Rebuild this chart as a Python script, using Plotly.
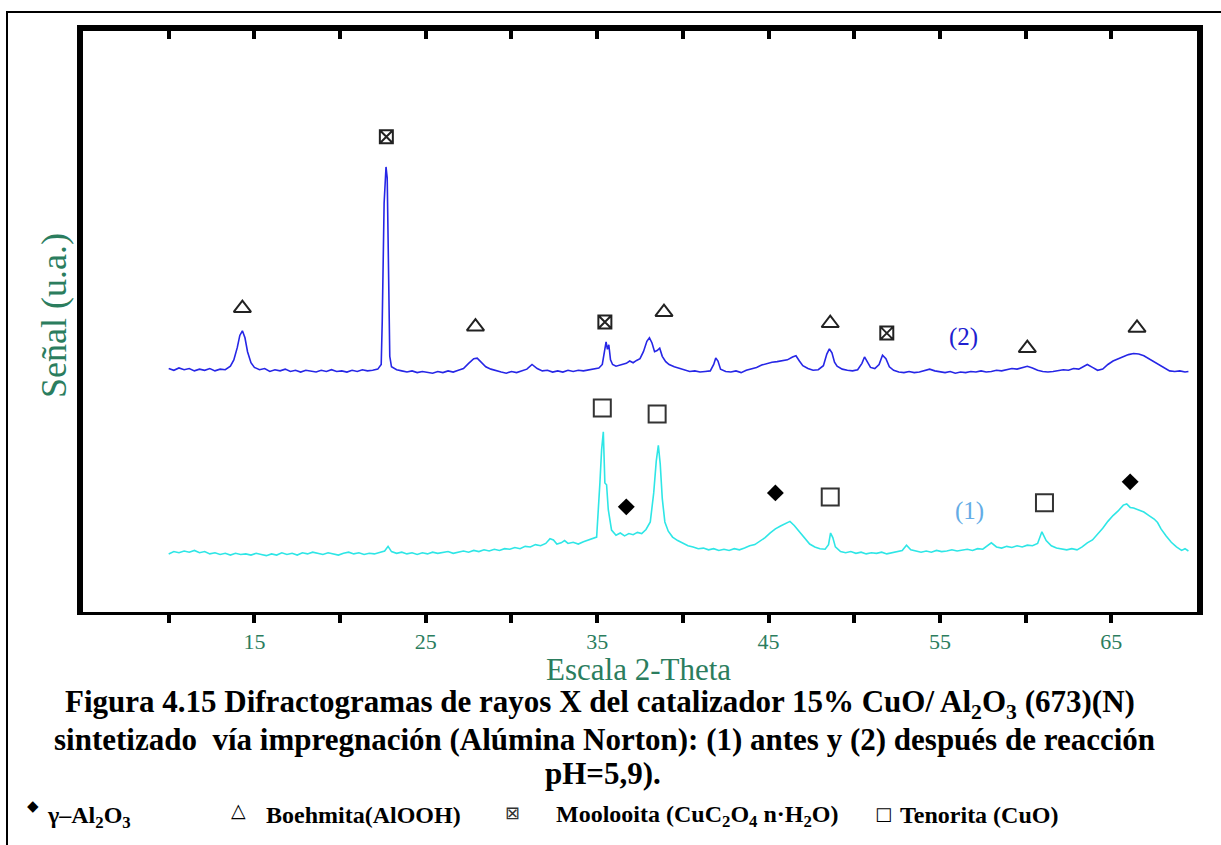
import plotly.graph_objects as go

# ---------------- data ----------------
two_theta_2 = [10.0,10.3,10.6,10.9,11.2,11.5,11.8,12.1,12.4,12.7,13.0,13.3,13.6,13.8,14.0,14.15,14.3,14.45,14.6,14.8,
               15.0,15.3,15.6,15.9,16.2,16.5,16.8,17.1,17.4,17.7,18.0,18.3,18.6,18.9,19.2,19.5,19.8,20.1,20.4,20.7,
               21.0,21.3,21.6,21.9,22.2,22.4,22.46,22.57,22.68,22.75,22.83,22.9,23.0,23.3,23.6,23.9,24.2,24.5,24.8,25.1,
               25.4,25.7,26.0,26.3,26.6,26.9,27.2,27.5,27.8,28.0,28.2,28.5,28.8,29.1,29.4,29.7,30.0,30.3,30.6,30.9,
               31.2,31.5,31.8,32.1,32.4,32.7,33.0,33.3,33.6,33.9,34.2,34.5,34.8,35.1,35.3,35.42,35.52,35.6,35.68,35.78,
               35.9,36.1,36.4,36.7,36.9,37.1,37.3,37.5,37.7,37.9,38.05,38.2,38.35,38.5,38.65,38.8,39.0,39.2,39.5,39.8,
               40.1,40.4,40.7,41.0,41.3,41.6,41.8,41.92,42.05,42.2,42.5,42.8,43.1,43.4,43.7,44.0,44.3,44.6,44.9,45.2,
               45.5,45.8,46.1,46.4,46.6,46.8,47.0,47.3,47.6,47.9,48.2,48.4,48.55,48.7,48.85,49.0,49.3,49.6,49.9,50.2,
               50.45,50.6,50.75,50.95,51.2,51.45,51.65,51.85,52.05,52.3,52.6,52.9,53.2,53.5,53.8,54.1,54.4,54.7,55.0,55.3,
               55.6,55.9,56.2,56.5,56.8,57.1,57.4,57.7,58.0,58.3,58.6,58.9,59.2,59.5,59.8,60.1,60.4,60.7,61.0,61.3,
               61.6,61.9,62.2,62.5,62.8,63.1,63.4,63.6,63.9,64.2,64.5,64.8,65.1,65.4,65.7,66.0,66.3,66.6,66.9,67.2,
               67.5,67.8,68.1,68.4,68.7,69.0,69.3,69.5]
signal_2 = [41.9,41.6,42.0,41.7,41.9,41.5,41.8,41.6,41.9,41.5,41.8,41.7,42.3,43.4,45.5,47.6,48.4,47.2,44.8,42.9,
            42.1,41.7,41.9,41.4,41.7,41.5,41.8,41.4,41.6,41.3,41.6,41.5,41.3,41.6,41.4,41.7,41.4,41.5,41.3,41.6,
            41.4,41.7,41.5,41.6,41.8,42.6,50.0,70.4,76.6,74.7,53.4,44.0,42.2,41.7,41.5,41.3,41.5,41.2,41.4,41.3,
            41.1,41.4,41.2,41.5,41.3,41.6,41.9,42.8,43.6,43.7,43.1,42.2,41.8,41.5,41.3,41.1,41.4,41.2,41.5,41.8,
            42.6,41.9,41.5,41.6,41.3,41.5,41.3,41.6,41.4,41.6,41.5,41.7,41.8,42.0,42.6,45.0,46.5,45.2,46.0,43.4,
            42.6,42.3,42.5,42.8,43.2,42.9,43.3,43.6,44.8,46.6,47.2,46.3,44.8,45.0,45.4,44.0,43.1,42.6,42.2,41.9,
            41.7,41.4,41.5,41.3,41.4,41.5,42.6,43.7,43.2,41.8,41.4,41.3,41.5,41.2,41.6,41.8,42.1,42.5,42.8,43.0,
            43.1,43.3,43.4,43.9,44.1,43.2,42.4,41.9,41.6,41.7,42.4,44.4,45.3,44.6,43.0,42.3,41.8,41.6,41.5,41.7,
            42.8,43.9,43.1,42.1,41.9,42.6,44.2,43.6,42.2,41.6,41.3,41.2,41.4,41.2,41.3,41.5,41.8,41.5,41.3,41.2,
            41.4,41.1,41.3,41.2,41.4,41.3,41.5,41.3,41.4,41.6,41.5,41.7,41.9,41.8,42.1,42.3,42.0,41.6,41.4,41.3,
            41.4,41.5,41.7,41.6,41.9,41.8,42.3,42.6,42.1,41.6,41.8,42.6,43.2,43.6,43.9,44.3,44.5,44.4,44.1,43.6,
            43.1,42.6,42.0,41.5,41.4,41.5,41.3,41.4]

two_theta_1 = [10.0,10.3,10.6,10.9,11.2,11.5,11.8,12.1,12.4,12.7,13.0,13.3,13.6,13.9,14.2,14.5,14.8,15.1,15.4,15.7,
               16.0,16.3,16.6,16.9,17.2,17.5,17.8,18.1,18.4,18.7,19.0,19.3,19.6,19.9,20.2,20.5,20.8,21.1,21.4,21.7,
               22.0,22.3,22.6,22.8,23.0,23.3,23.6,23.9,24.2,24.5,24.8,25.1,25.4,25.7,26.0,26.3,26.6,26.9,27.2,27.5,
               27.8,28.1,28.4,28.7,29.0,29.3,29.6,29.9,30.2,30.5,30.8,31.1,31.4,31.7,32.0,32.25,32.45,32.65,32.9,33.1,
               33.3,33.6,33.9,34.2,34.5,34.75,34.97,35.16,35.26,35.36,35.45,35.55,35.65,35.84,36.1,36.35,36.6,36.85,37.1,37.35,
               37.6,37.85,38.1,38.3,38.45,38.57,38.68,38.8,38.95,39.15,39.4,39.7,40.0,40.3,40.6,40.9,41.2,41.5,41.8,42.1,
               42.4,42.7,43.0,43.3,43.6,43.9,44.2,44.5,44.8,45.1,45.4,45.7,46.0,46.25,46.5,46.8,47.1,47.4,47.7,48.0,
               48.3,48.5,48.62,48.75,48.9,49.2,49.5,49.8,50.1,50.4,50.7,51.0,51.3,51.6,51.9,52.2,52.5,52.8,53.05,53.3,
               53.6,53.9,54.2,54.5,54.8,55.1,55.4,55.7,56.0,56.3,56.6,56.9,57.2,57.5,57.8,58.0,58.3,58.6,58.9,59.2,
               59.5,59.8,60.1,60.4,60.7,60.95,61.2,61.5,61.8,62.1,62.4,62.7,63.0,63.3,63.6,63.9,64.2,64.5,64.8,65.1,
               65.4,65.7,65.9,66.1,66.3,66.6,66.9,67.2,67.5,67.7,67.9,68.2,68.5,68.8,69.1,69.3,69.5]
signal_1 = [10.0,10.4,10.2,10.5,10.3,10.6,10.2,10.4,10.0,10.2,9.9,10.1,9.8,10.1,9.9,10.0,9.8,10.1,9.9,9.7,
            10.0,9.8,10.2,9.9,10.1,9.8,10.2,10.0,10.3,10.1,9.9,10.2,10.0,9.8,10.1,10.3,10.0,10.2,9.9,10.1,
            10.0,10.2,10.5,11.3,10.4,10.1,10.3,10.0,10.2,9.9,10.2,10.0,10.3,10.1,10.2,10.4,10.1,10.3,10.5,10.3,
            10.6,10.4,10.7,10.5,10.8,10.6,10.9,10.8,11.1,10.9,11.3,11.2,11.6,11.4,11.8,12.6,12.4,11.7,11.9,12.3,
            11.8,12.0,11.7,12.1,12.4,12.6,12.9,22.2,27.9,31.0,22.2,21.9,17.6,14.1,13.2,13.6,13.1,13.5,13.3,13.7,
            13.5,14.2,15.5,20.5,26.0,28.7,25.5,19.5,15.5,13.9,12.9,12.3,11.8,11.4,11.2,10.9,11.0,10.7,10.9,10.6,
            10.8,10.6,10.9,10.7,11.0,11.4,11.6,12.2,12.8,13.6,14.3,14.8,15.3,15.6,14.9,13.8,12.6,11.7,11.2,10.9,
            10.8,11.6,13.6,12.8,11.2,10.4,10.2,10.4,10.1,10.3,10.0,10.2,10.1,10.3,10.0,10.2,10.4,10.6,11.5,10.7,
            10.5,10.3,10.5,10.3,10.6,10.4,10.5,10.7,10.5,10.6,10.8,10.6,10.9,10.8,11.5,11.9,11.2,11.0,11.3,11.1,
            11.4,11.2,11.5,11.4,11.8,13.8,12.3,11.4,11.0,10.8,10.7,10.9,10.7,11.2,11.9,12.4,13.4,14.4,15.6,16.6,
            17.4,18.4,18.6,18.0,17.9,17.5,17.2,16.6,16.0,15.4,14.3,13.1,12.0,11.2,10.6,10.9,10.5]

# phase markers: (2-theta position, height)
gamma_x = [36.7, 45.4, 66.1]
gamma_y = [18.1, 20.5, 22.4]
tenorita_x = [35.3, 38.5, 48.6, 61.1]
tenorita_y = [35.1, 34.1, 19.8, 18.8]
boehmita_x = [14.3, 27.9, 38.9, 48.6, 60.1, 66.5]
boehmita_y = [52.3, 49.1, 51.6, 49.7, 45.4, 48.9]
moolooita_x = [22.7, 35.45, 51.9]
moolooita_y = [81.8, 49.9, 48.0]

x_tickvals = [10, 15, 20, 25, 30, 35, 40, 45, 50, 55, 60, 65]
x_ticktext = ["", "15", "", "25", "", "35", "", "45", "", "55", "", "65"]

W, H = 1221, 845
GREEN = "#2b7d5e"
SERIF = "Liberation Serif"

fig = go.Figure()
fig.add_trace(go.Scatter(x=two_theta_2, y=signal_2, mode="lines",
                         line=dict(color="#2626e6", width=1.6), hoverinfo="skip"))
fig.add_trace(go.Scatter(x=two_theta_1, y=signal_1, mode="lines",
                         line=dict(color="#2ee6e6", width=1.6), hoverinfo="skip"))
fig.add_trace(go.Scatter(x=boehmita_x, y=boehmita_y, mode="markers",
                         marker=dict(symbol="triangle-up-open", size=15, color="#222", line=dict(width=2))))
fig.add_trace(go.Scatter(x=moolooita_x, y=moolooita_y, mode="markers",
                         marker=dict(symbol="square-x-open", size=13, color="#222", line=dict(width=2))))
fig.add_trace(go.Scatter(x=tenorita_x, y=tenorita_y, mode="markers",
                         marker=dict(symbol="square-open", size=17, color="#333", line=dict(width=2))))
fig.add_trace(go.Scatter(x=gamma_x, y=gamma_y, mode="markers",
                         marker=dict(symbol="diamond", size=13, color="#000")))
# dummy trace for the top axis
fig.add_trace(go.Scatter(x=[5, 70], y=[0, 0], xaxis="x2", mode="lines",
                         line=dict(width=0), opacity=0, hoverinfo="skip"))

x0d, x1d = 83 / W, 1197 / W
y0d, y1d = 1 - 612 / H, 1 - 31 / H

fig.update_layout(
    width=W, height=H,
    margin=dict(l=0, r=0, t=0, b=0),
    paper_bgcolor="white", plot_bgcolor="white",
    showlegend=False,
    xaxis=dict(domain=[x0d, x1d], range=[5, 70], showgrid=False, zeroline=False,
               showline=True, linewidth=3, linecolor="black",
               ticks="outside", ticklen=8, tickwidth=4, tickcolor="black",
               tickvals=x_tickvals, ticktext=x_ticktext,
               tickfont=dict(family=SERIF, size=22, color=GREEN)),
    xaxis2=dict(domain=[x0d, x1d], range=[5, 70], overlaying="x", side="top",
                showgrid=False, zeroline=False, showline=True, linewidth=6, linecolor="black",
                ticks="inside", ticklen=8, tickwidth=4, tickcolor="black",
                tickvals=x_tickvals, showticklabels=False),
    yaxis=dict(domain=[y0d, y1d], range=[0, 100], showgrid=False, zeroline=False,
               showline=True, linewidth=6, linecolor="black", mirror=True,
               ticks="", showticklabels=False),
)


def note(text, px, py, size, family=SERIF, color="black", xanchor="center", angle=0):
    return dict(text=text, x=px / W, y=1 - py / H, xref="paper", yref="paper",
                xanchor=xanchor, yanchor="middle", showarrow=False, textangle=angle,
                font=dict(family=family, size=size, color=color))


annotations = [
    dict(text="(2)", x=56.4, y=47.3, xref="x", yref="y", showarrow=False,
         xanchor="center", yanchor="middle",
         font=dict(family=SERIF, size=25, color="#2020d0")),
    dict(text="(1)", x=56.7, y=17.4, xref="x", yref="y", showarrow=False,
         xanchor="center", yanchor="middle",
         font=dict(family=SERIF, size=25, color="#64ace6")),
    note("Señal (u.a.)", 54, 316, 36, color=GREEN, angle=-90),
    note("Escala 2-Theta", 638, 669, 31, color=GREEN),
    note("<b>Figura 4.15 Difractogramas de rayos X del catalizador 15% CuO/ Al<sub>2</sub>O<sub>3</sub> (673)(N)</b>",
         600, 704, 31),
    note("<b>sintetizado  vía impregnación (Alúmina Norton): (1) antes y (2) después de reacción</b>",
         604, 739, 31),
    note("<b>pH=5,9).</b>", 603, 773, 31),
    # legend row
    note("◆", 33, 806, 15, family="DejaVu Sans"),
    note("<b>γ–Al<sub>2</sub>O<sub>3</sub></b>", 45, 817, 24, xanchor="left"),
    note("△", 238, 810, 19, family="DejaVu Sans"),
    note("<b>Boehmita(AlOOH)</b>", 264, 815, 24, xanchor="left"),
    note("⊠", 512, 812, 18, family="DejaVu Sans", color="#333"),
    note("<b>Moolooita (CuC<sub>2</sub>O<sub>4</sub> n·H<sub>2</sub>O)</b>", 554, 816, 24, xanchor="left"),
    note("□", 883, 813, 18, family="DejaVu Sans"),
    note("<b>Tenorita (CuO)</b>", 898, 815, 24, xanchor="left"),
]
fig.update_layout(annotations=annotations)

# outer thin frame of the figure
fig.add_shape(type="rect", xref="paper", yref="paper",
              x0=7 / W, x1=1.05, y0=-0.05, y1=1 - 12 / H,
              line=dict(color="black", width=2), fillcolor="rgba(0,0,0,0)", layer="below")

fig.write_html("out.html")
